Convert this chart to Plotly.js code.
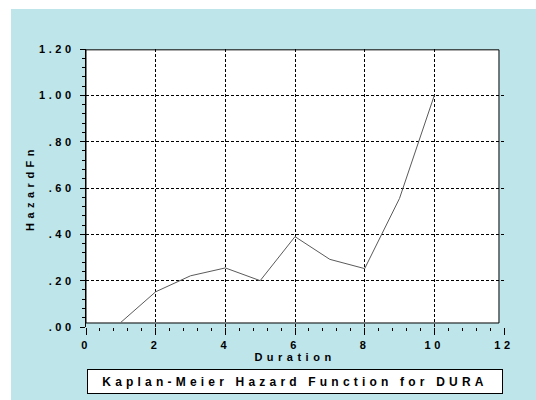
<!DOCTYPE html>
<html>
<head>
<meta charset="utf-8">
<script src="https://cdn.plot.ly/plotly-3.0.1.min.js"></script>
<style>
  html, body { margin: 0; padding: 0; background: #ffffff; }
  #chart { position: absolute; left: 11px; top: 9px; width: 525px; height: 391px; }
  .xtick text, .ytick text { letter-spacing: 3.6px; }
  .xtitle, .ytitle { letter-spacing: 4.5px; }
  .annotation-text { letter-spacing: 4.2px; }
</style>
</head>
<body>
<div id="chart"></div>
<script>
// Data
const duration = [1, 2, 3, 4, 5, 6, 7, 8, 9, 10];
const hazard = [0.02, 0.152, 0.221, 0.255, 0.200, 0.390, 0.292, 0.252, 0.555, 1.00];

// Tick labels
const xTickVals = [0, 2, 4, 6, 8, 10, 12];
const xTickText = ["0", "2", "4", "6", "8", "10", "12"];
const xGridVals = [2, 4, 6, 8, 10];
const yTickVals = [0, 0.2, 0.4, 0.6, 0.8, 1.0, 1.2];
const yTickText = [".00", ".20", ".40", ".60", ".80", "1.00", "1.20"];
const yGridVals = [0.2, 0.4, 0.6, 0.8, 1.0];

const chartTitle = "Kaplan-Meier Hazard Function for DURA";
const xTitle = "Duration";
const yTitle = "HazardFn";

const tickFont = { family: "Liberation Sans, Arial, sans-serif", size: 11, color: "#000", weight: "bold" };

const traces = [
  {
    x: duration,
    y: hazard,
    type: "scatter",
    mode: "lines",
    line: { color: "#5a5a5a", width: 1 },
    hoverinfo: "x+y",
    showlegend: false
  },
  // invisible trace to activate grid axes
  {
    x: duration,
    y: hazard,
    xaxis: "x2",
    yaxis: "y2",
    type: "scatter",
    mode: "lines",
    line: { width: 0 },
    opacity: 0,
    hoverinfo: "skip",
    showlegend: false
  }
];

const layout = {
  width: 525,
  height: 391,
  margin: { l: 75, r: 32, t: 40, b: 73 },
  paper_bgcolor: "#bde5ea",
  plot_bgcolor: "rgba(0,0,0,0)",
  showlegend: false,
  xaxis: {
    range: [0, 12],
    tickvals: xTickVals,
    ticktext: xTickText,
    showgrid: false,
    zeroline: false,
    showline: false,
    ticks: "outside",
    ticklen: 7,
    tickwidth: 1,
    tickcolor: "#000",
    ticklabelstandoff: 1,
    tickfont: tickFont,
    minor: { dtick: 0.4, ticks: "outside", ticklen: 3, tickwidth: 1, tickcolor: "#000", showgrid: false },
    title: { text: xTitle, font: tickFont, standoff: 2 },
    fixedrange: true
  },
  yaxis: {
    range: [0, 1.2],
    tickvals: yTickVals,
    ticktext: yTickText,
    showgrid: false,
    zeroline: false,
    showline: true,
    linecolor: "#000",
    linewidth: 1,
    ticks: "outside",
    ticklen: 5,
    tickwidth: 1,
    tickcolor: "#000",
    ticklabelstandoff: 3,
    tickfont: tickFont,
    minor: { dtick: 0.04, ticks: "outside", ticklen: 3, tickwidth: 1, tickcolor: "#000", showgrid: false },
    title: { text: yTitle, font: tickFont, standoff: 2 },
    fixedrange: true
  },
  xaxis2: {
    overlaying: "x",
    matches: "x",
    range: [0, 12],
    tickvals: xGridVals,
    showticklabels: false,
    ticks: "",
    showgrid: true,
    gridcolor: "#000",
    gridwidth: 1,
    griddash: "3px,2px",
    zeroline: false,
    showline: false,
    anchor: "y2"
  },
  yaxis2: {
    overlaying: "y",
    matches: "y",
    range: [0, 1.2],
    tickvals: yGridVals,
    showticklabels: false,
    ticks: "",
    showgrid: true,
    gridcolor: "#000",
    gridwidth: 1,
    griddash: "3px,2px",
    zeroline: false,
    showline: false,
    anchor: "x2"
  },
  shapes: [
    {
      type: "rect",
      xref: "paper", yref: "paper",
      x0: 0, x1: 0.988, y0: 0.0144, y1: 0.997,
      fillcolor: "#ffffff",
      line: { color: "#000", width: 1 },
      layer: "below"
    }
  ],
  annotations: [
    {
      text: chartTitle,
      xref: "paper", yref: "paper",
      x: 0.5, y: -0.196,
      xanchor: "center", yanchor: "middle",
      showarrow: false,
      font: { family: "Liberation Sans, Arial, sans-serif", size: 12, color: "#000", weight: "bold" },
      bgcolor: "#ffffff",
      bordercolor: "#000",
      borderwidth: 1,
      borderpad: 2,
      width: 410,
      height: 19
    }
  ]
};

Plotly.newPlot("chart", traces, layout, { displayModeBar: false, staticPlot: true });
</script>
</body>
</html>
